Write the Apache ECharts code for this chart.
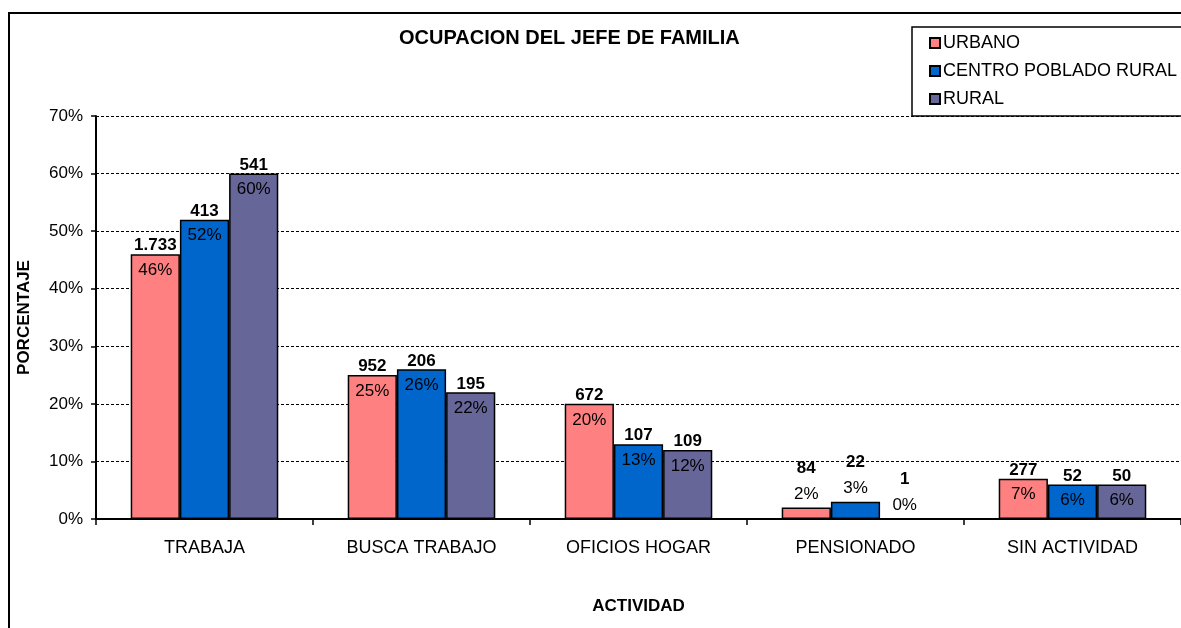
<!DOCTYPE html>
<html>
<head>
<meta charset="utf-8">
<script src="https://cdn.jsdelivr.net/npm/echarts@6/dist/echarts.min.js"></script>
<style>
  html, body { margin: 0; padding: 0; background: #fff; }
  #chart { width: 1181px; height: 628px; }
</style>
</head>
<body>
<div id="chart"></div>
<script>
'use strict';
var categories = ['TRABAJA', 'BUSCA TRABAJO', 'OFICIOS HOGAR', 'PENSIONADO', 'SIN ACTIVIDAD'];
var seriesNames = ['URBANO', 'CENTRO POBLADO RURAL', 'RURAL'];
var urbanoPct = [46, 25, 20, 2, 7];
var centroPct = [52, 26, 13, 3, 6];
var ruralPct = [60, 22, 12, 0, 6];
var urbanoCount = ['1.733', '952', '672', '84', '277'];
var centroCount = ['413', '206', '107', '22', '52'];
var ruralCount = ['541', '195', '109', '1', '50'];
var yTicks = [0, 10, 20, 30, 40, 50, 60, 70];

var colors = ['#FF8080', '#0066CC', '#666699'];
var font = 'Arial, "Liberation Sans", sans-serif';

function buildData(pcts, counts) {
    var out = [];
    for (var i = 0; i < pcts.length; i++) {
        var item = { value: pcts[i], count: counts[i] };
        if (pcts[i] < 4) {
            // short bar: both labels sit above it
            item.label = {
                offset: [0, 0],
                distance: 0,
                rich: {
                    c: { fontFamily: font, fontWeight: 'bold', fontSize: 17, lineHeight: 26, color: '#000' },
                    p: { fontFamily: font, fontSize: 17, lineHeight: 26, color: '#000' }
                }
            };
        }
        out.push(item);
    }
    return out;
}

function makeSeries(idx, pcts, counts) {
    return {
        name: seriesNames[idx],
        type: 'bar',
        barGap: '0%',
        barCategoryGap: '32%',
        data: buildData(pcts, counts),
        itemStyle: { color: colors[idx], borderColor: '#000', borderWidth: 1.5 },
        label: {
            show: true,
            position: 'top',
            distance: 0,
            offset: [0, 32],
            formatter: function (p) {
                return '{c|' + p.data.count + '}\n{p|' + p.value + '%}';
            },
            rich: {
                c: { fontFamily: font, fontWeight: 'bold', fontSize: 17, lineHeight: 17, color: '#000' },
                p: { fontFamily: font, fontSize: 17, lineHeight: 32, color: '#000' }
            }
        }
    };
}

var chart = echarts.init(document.getElementById('chart'));
chart.setOption({
    backgroundColor: '#fff',
    animation: false,
    title: {
        text: 'OCUPACION DEL JEFE DE FAMILIA',
        left: 394,
        top: 23,
        textStyle: { fontFamily: font, fontWeight: 'bold', fontSize: 20, color: '#000' }
    },
    legend: {
        orient: 'vertical',
        left: 912,
        top: 27,
        padding: [7, 80, 8, 17],
        itemGap: 10,
        itemWidth: 10,
        itemHeight: 10,
        icon: 'rect',
        borderColor: '#000',
        borderWidth: 1.5,
        backgroundColor: '#fff',
        textStyle: { fontFamily: font, fontSize: 18, color: '#000', padding: [0, 0, 0, -2] },
        data: seriesNames
    },
    graphic: [{
        type: 'rect',
        z: -1,
        shape: { x: 9, y: 13, width: 1300, height: 700 },
        style: { fill: 'none', stroke: '#000', lineWidth: 2 }
    }],
    grid: { left: 96, top: 116, bottom: 109, width: 1094 },
    xAxis: {
        type: 'category',
        data: categories,
        name: 'ACTIVIDAD',
        nameLocation: 'middle',
        nameGap: 79,
        nameTextStyle: { fontFamily: font, fontWeight: 'bold', fontSize: 17, color: '#000' },
        axisLine: { lineStyle: { color: '#000', width: 2 } },
        axisTick: { show: true, length: 6, lineStyle: { color: '#000', width: 1.5 } },
        axisLabel: { margin: 20, fontFamily: font, fontSize: 18, color: '#000' }
    },
    yAxis: {
        type: 'value',
        min: yTicks[0],
        max: yTicks[yTicks.length - 1],
        interval: 10,
        name: 'PORCENTAJE',
        nameLocation: 'middle',
        nameGap: 63,
        nameTextStyle: { fontFamily: font, fontWeight: 'bold', fontSize: 17, color: '#000' },
        axisLine: { show: true, lineStyle: { color: '#000', width: 2 } },
        axisTick: { show: true, length: 5, lineStyle: { color: '#000', width: 1.5 } },
        axisLabel: { margin: 13, fontFamily: font, fontSize: 17, color: '#000', formatter: '{value}%' },
        splitLine: { show: true, lineStyle: { color: '#000', type: [3, 2], width: 1 } }
    },
    series: [
        makeSeries(0, urbanoPct, urbanoCount),
        makeSeries(1, centroPct, centroCount),
        makeSeries(2, ruralPct, ruralCount)
    ]
});
</script>
</body>
</html>
